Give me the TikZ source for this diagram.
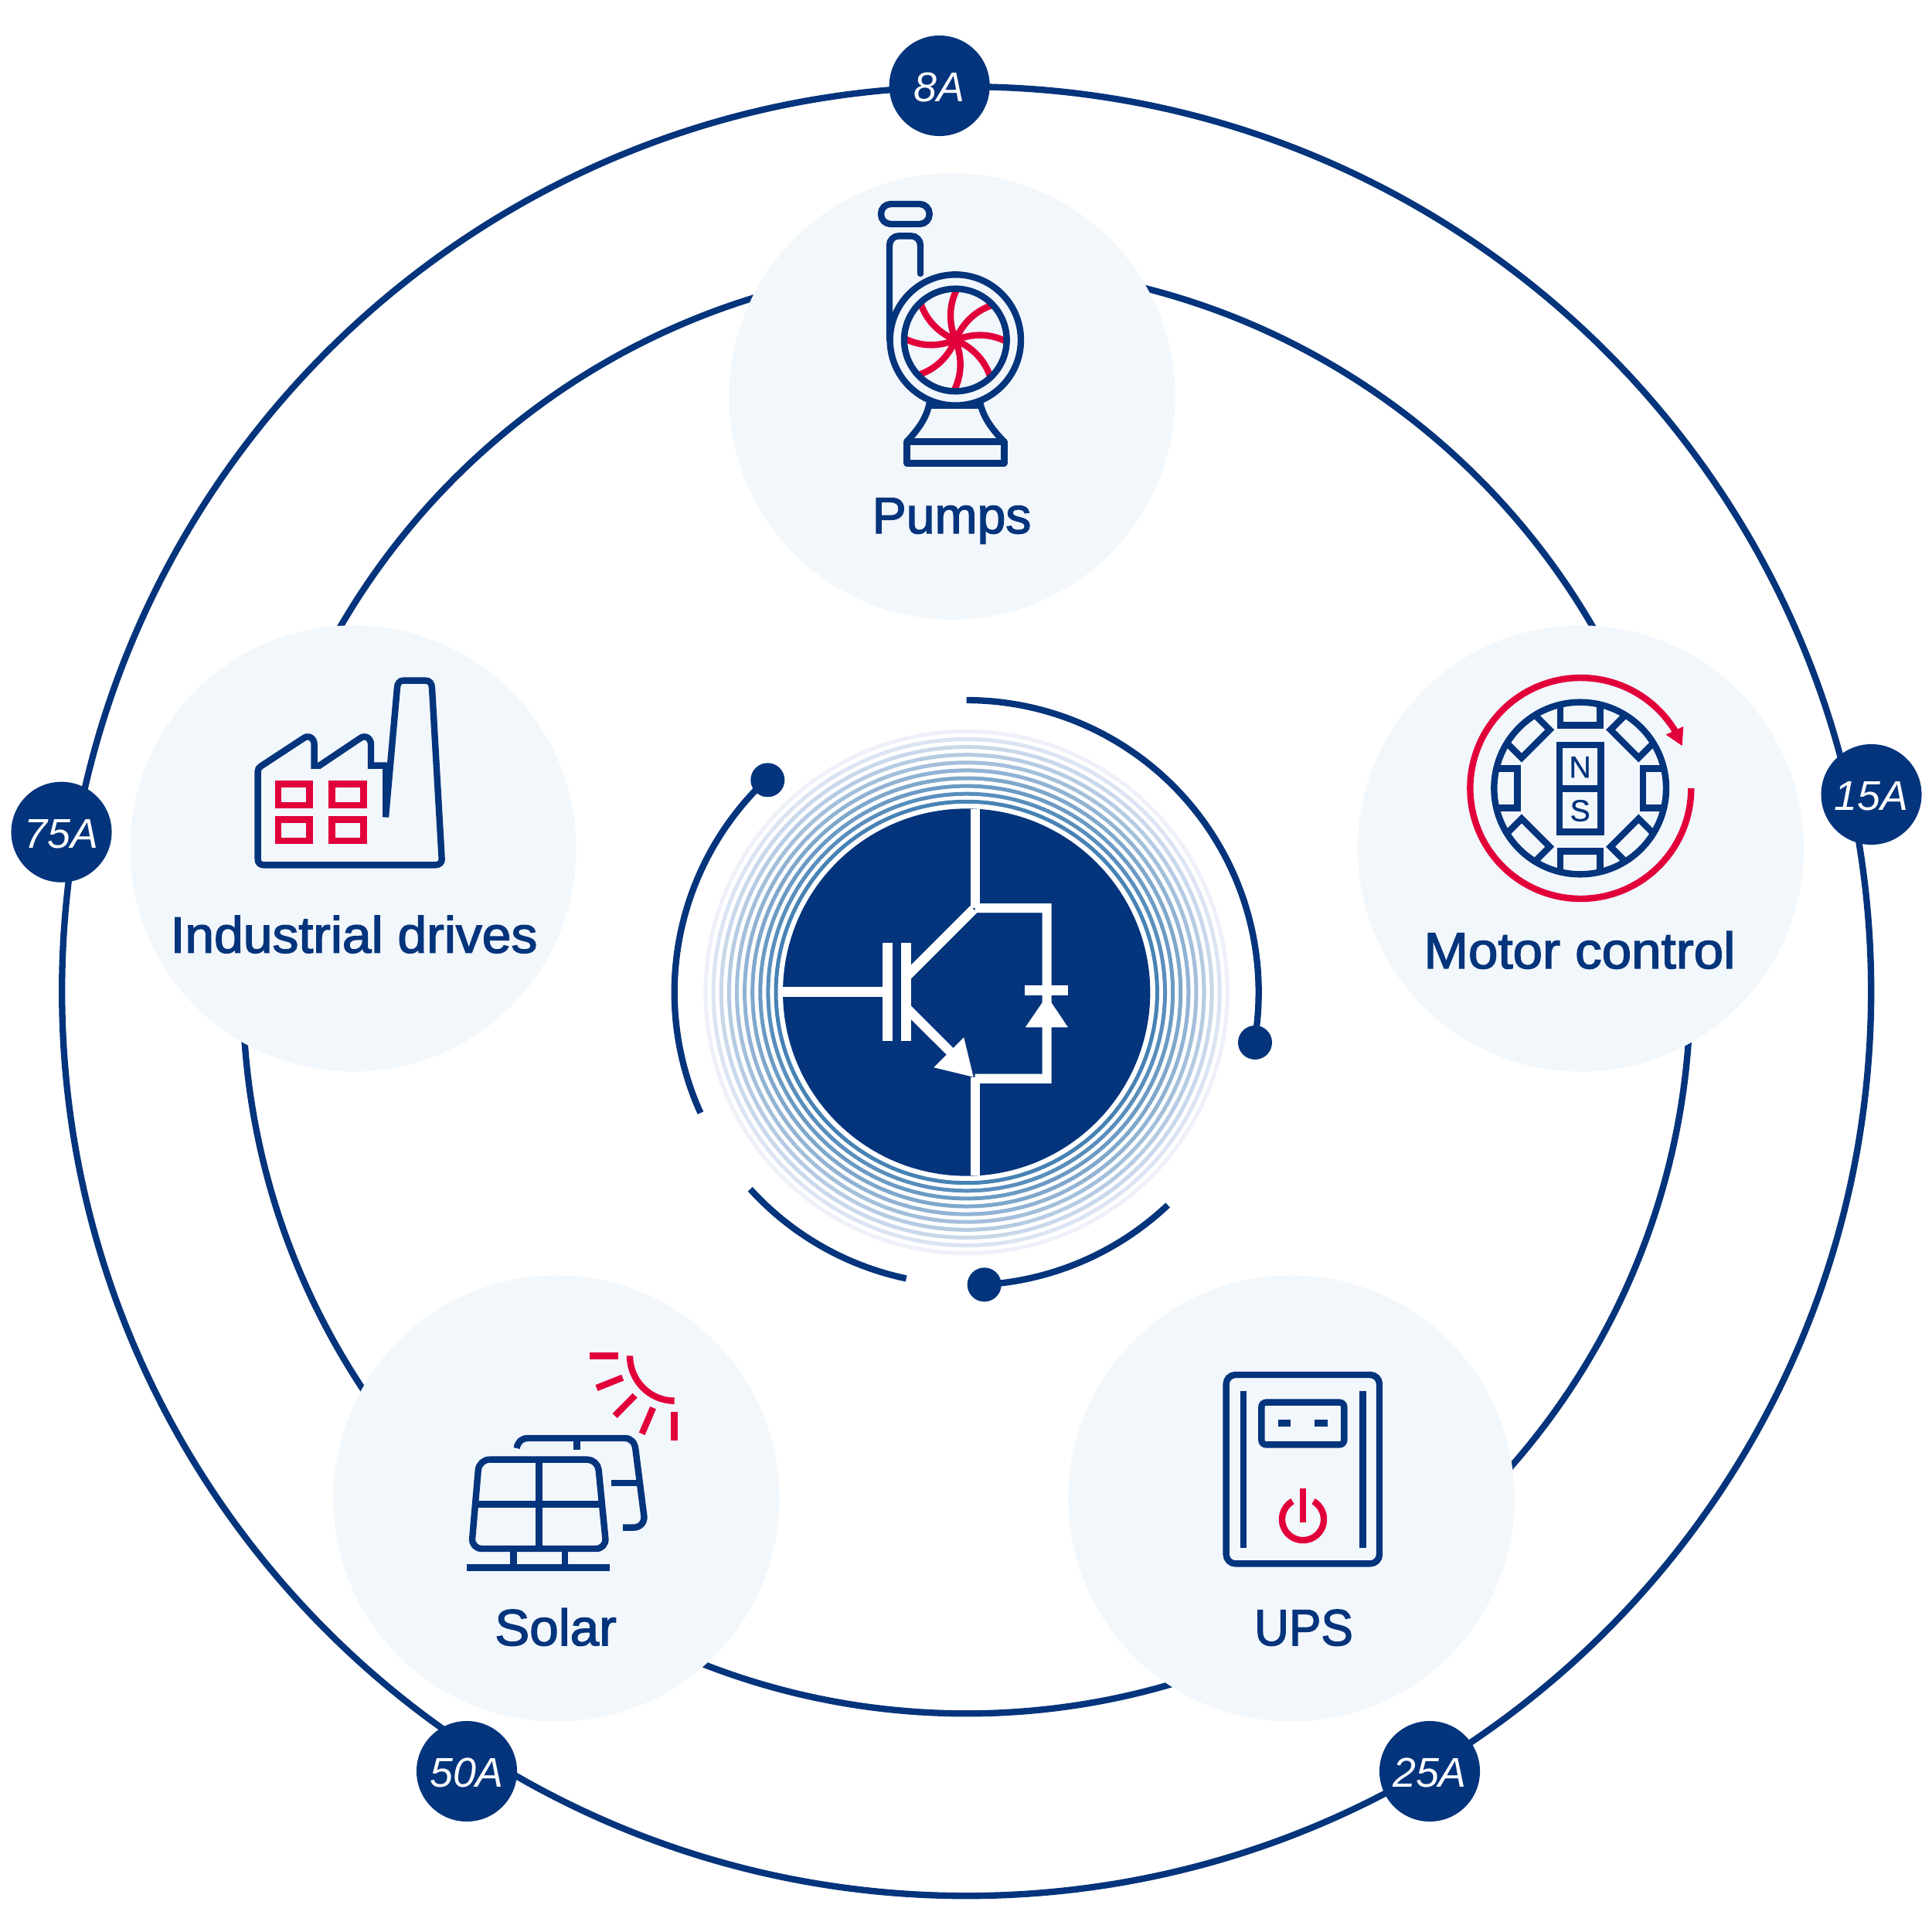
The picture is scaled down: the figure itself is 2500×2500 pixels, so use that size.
\documentclass[tikz,border=0pt]{standalone}
\usepackage{fontspec}
\setmainfont{Liberation Sans}
\newfontfamily\labfont[FakeBold=2.2]{Liberation Sans}
\newfontfamily\badgefont{Liberation Sans Italic}
\newfontfamily\magfont[FakeBold=0.8]{Liberation Sans}
\definecolor{navy}{HTML}{03347C}
\definecolor{redc}{HTML}{E2003B}
\definecolor{pale}{HTML}{F2F7FC}
\definecolor{ringin}{HTML}{4682B4}
\definecolor{ringout}{HTML}{EEF0FA}
\newcommand{\sarc}[5]{plot[domain=#4:#5,samples=120,variable=\t]({#1+#3*cos(\t)},{#2+#3*sin(\t)})}
\newcommand{\btxt}[1]{\raisebox{-5.9pt}[0pt][0pt]{#1}}
\tikzset{
  lw/.style={line width=#1*0.28453pt},
  ring/.style={draw=navy,lw=8.3},
  core arc/.style={draw=navy,lw=8.3},
  ico/.style={draw=navy,lw=8.4,line join=miter},
  icr/.style={draw=redc,lw=8.4,line join=miter},
  halo/.style={circle,fill=pale,minimum size=5.77cm,inner sep=0pt},
  badge/.style={circle,fill=navy,minimum size=1.3cm,inner sep=0pt,text=white,font=\badgefont\fontsize{15.3pt}{16pt}\selectfont},
  dotn/.style={circle,fill=navy,minimum size=0.44cm,inner sep=0pt},
  lab/.style={anchor=base,inner sep=0pt,text=navy,font=\labfont\fontsize{18.8pt}{20pt}\selectfont},
}
\begin{document}
\begin{tikzpicture}[x=0.01cm,y=-0.01cm]
\useasboundingbox (0,0) rectangle (2500,2500);
\fill[white] (0,0) rectangle (2500,2500);
\coordinate (C) at (1250.7,1284);
\coordinate (O) at (1250.7,1282.7);
\coordinate (I) at (1250.7,1280.8);
% rings
\draw[ring] (O) circle[radius=1170.5];
\draw[ring] (I) circle[radius=936.5];
% application discs
\node[halo] (pumps) at (1232,513) {};
\node[halo] (motor) at (2045.5,1098) {};
\node[halo] (drives) at (457,1098) {};
\node[halo] (solar) at (720,1939) {};
\node[halo] (ups) at (1671,1939) {};
% badges
\node[badge] (b8) at (1215.7,111) {\btxt{8A}};
\node[badge] (b15) at (2421.5,1028) {\btxt{15A}};
\node[badge] (b75) at (79.5,1076.7) {\btxt{75A}};
\node[badge] (b50) at (604,2292) {\btxt{50A}};
\node[badge] (b25) at (1850,2292) {\btxt{25A}};
% concentric rings
\foreach \i in {0,...,9}{
  \pgfmathsetmacro{\pc}{100-\i*100/9}
  \pgfmathsetmacro{\rr}{246.7+\i*10.1}
  \draw[lw=5,draw=ringin!\pc!ringout] (C) circle[radius=\rr];
}
% centre disc
\node[circle,fill=navy,minimum size=4.75cm,inner sep=0pt] (core) at (C) {};
% orbit arcs
\draw[core arc] \sarc{1250.7}{1284}{378}{-90}{9.9};
\draw[core arc] \sarc{1250.7}{1284}{378}{155.6}{226.9};
\draw[core arc] \sarc{1250.7}{1284}{378.5}{101.9}{137.7};
\draw[core arc] \sarc{1250.7}{1284}{379}{46.6}{86.5};
\node[dotn] (d1) at (1624,1349) {};
\node[dotn] (d2) at (993.3,1009.3) {};
\node[dotn] (d3) at (1273.7,1662.3) {};
% IGBT symbol
\begin{scope}[shift={(980,1020)},scale=1/2.9037]
  \fill[white] (800,78) rectangle (836,450);
  \fill[white] (800,1085) rectangle (836,1456);
  \fill[white] (818,433) -- (1105,433) -- (1105,1109) -- (818,1109) -- (818,1073) -- (1070,1073) -- (1070,468) -- (818,468) -- cycle;
  \fill[white] (1006,741) rectangle (1168,777);
  \fill[white] (1088,780) -- (1167,898) -- (1007,898) -- cycle;
  \fill[white] (97,747) rectangle (470,783);
  \fill[white] (470,582) rectangle (507,949);
  \fill[white] (540,582) rectangle (577,949);
  \fill[white] (577,665) -- (800,442) -- (825,468) -- (577,716) -- cycle;
  \fill[white] (577,817) -- (737,977) -- (712,1002) -- (577,868) -- cycle;
  \fill[white] (776,936) -- (663,1049) -- (812,1085) -- cycle;
\end{scope}
% pump icon
\begin{scope}[shift={(1050,220)},scale=1/3]
  \draw[ico,rounded corners=3.6pt] (270,132) rectangle (458,210);
  \foreach \a in {0,45,...,315}{
    \begin{scope}[shift={(559,660)},rotate=\a]
      \draw[icr] (0,0) .. controls (-27.3,-70) and (-25.2,-136.3) .. (6.5,-199);
    \end{scope}
  }
  \fill[redc] (559,660) circle[radius=18];
  \draw[ico,rounded corners=3.4pt,line cap=round] (423,402) -- (423,256) -- (303,256) -- (303,660);
  \draw[ico] (559,660) circle[radius=254];
  \draw[ico] (559,660) circle[radius=199];
  \draw[ico,line join=round] (458,905) .. controls (445,970) and (410,1010) .. (370,1055);
  \draw[ico,line join=round] (655,905) .. controls (670,970) and (710,1015) .. (748,1055);
  \draw[ico] (458,915) -- (655,915);
  \draw[ico,line join=round] (370,1055) rectangle (748,1138);
\end{scope}
\node[lab] (pumpslab) at (1231.5,690) {Pumps};
% motor icon
\begin{scope}[shift={(1850,850)},scale=1/3]
  \draw[icr] \sarc{586}{510}{429}{0}{330};
  \fill[redc] (985,270) -- (917,302) -- (980,345) -- cycle;
  \begin{scope}
    \clip (584,510) circle[radius=335];
    \foreach \a in {0,45,...,315}{
      \begin{scope}[shift={(584,510)},rotate=\a]
        \draw[ico] (-77,-340) -- (-77,-244) -- (77,-244) -- (77,-340);
      \end{scope}
    }
  \end{scope}
  \draw[ico] (584,510) circle[radius=334];
  \draw[ico] (504,342) rectangle (665,680);
  \draw[ico] (504,512) -- (665,512);
  \node[text=navy,inner sep=0pt,font=\magfont\fontsize{11.2pt}{12pt}\selectfont] (mn) at (584,428) {N};
  \node[text=navy,inner sep=0pt,font=\magfont\fontsize{11.2pt}{12pt}\selectfont] (ms) at (584,597) {S};
\end{scope}
\node[lab] (motorlab) at (2044,1253) {\scalebox{1.045}[1]{Motor control}};
% factory icon
\begin{scope}[shift={(300,850)},scale=1/3]
  \draw[ico] (597,422) -- (540,422) -- (540,340) .. controls (540,315) and (517,300) .. (495,318) -- (340,422) -- (320,422) -- (320,340) .. controls (320,315) and (297,300) .. (275,318) -- (112,425) .. controls (105,430) and (101,436) .. (101,445) -- (101,785) .. controls (101,800) and (110,808) .. (125,808) -- (790,808) .. controls (805,808) and (816,798) .. (815,785) -- (777,120) .. controls (776,103) and (768,92) .. (752,92) -- (665,92) .. controls (652,92) and (643,103) .. (642,118) -- (597,622);
  \fill[navy] (585,410) -- (605,410) -- (608,622) -- (585,622) -- cycle;
  \foreach \x/\y in {180/494,389/494,180/632,389/632}{
    \draw[icr] (\x,\y) rectangle ++(122,82);
  }
\end{scope}
\node[lab] (driveslab) at (458,1232.7) {\scalebox{1.026}[1]{Industrial drives}};
% solar icon
\begin{scope}[shift={(580,1720)},scale=1/3]
  \draw[ico,rounded corners=3.8pt] (353,506) -- (120,506) -- (90,852) -- (614,852) -- (580,506) -- cycle;
  \draw[ico] (353,506) -- (353,852);
  \draw[ico] (108,679) -- (597,679);
  \draw[ico] (253,852) -- (253,926);
  \draw[ico] (453,852) -- (453,926);
  \draw[ico] (72,926) -- (628,926);
  \draw[ico] (266,462) .. controls (270,437) and (285,423) .. (310,423) -- (685,423) .. controls (710,423) and (724,440) .. (727,465) -- (760,725) .. controls (763,750) and (745,770) .. (718,770) -- (678,770);
  \draw[ico] (499,423) -- (499,468);
  \draw[ico] (634,597) -- (738,597);
  \draw[icr] (550,103) -- (660,103);
  \draw[icr] (576,228) -- (677,188);
  \draw[icr] (647,336) -- (725,257);
  \draw[icr] (752,406) -- (795,305);
  \draw[icr] (878,322) -- (878,432);
  \draw[icr] (705,103) .. controls (705,199) and (782,278) .. (878,278);
\end{scope}
\node[lab] (solarlab) at (719,2129) {\scalebox{1.02}[1]{Solar}};
% ups icon
\begin{scope}[shift={(1560,1760)},scale=1/3]
  \draw[ico,rounded corners=3.4pt] (80,57) rectangle (675,790);
  \draw[ico] (147,120) -- (147,730);
  \draw[ico] (610,120) -- (610,730);
  \draw[ico,rounded corners=1.7pt] (217,164) rectangle (538,328);
  \draw[ico] (282,245) -- (330,245);
  \draw[ico] (424,245) -- (473,245);
  \draw[icr] \sarc{378}{618}{81}{-60}{240};
  \draw[icr] (378,498) -- (378,630);
\end{scope}
\node[lab] (upslab) at (1687,2129) {\scalebox{0.94}[1]{UPS}};
\end{tikzpicture}
\end{document}
